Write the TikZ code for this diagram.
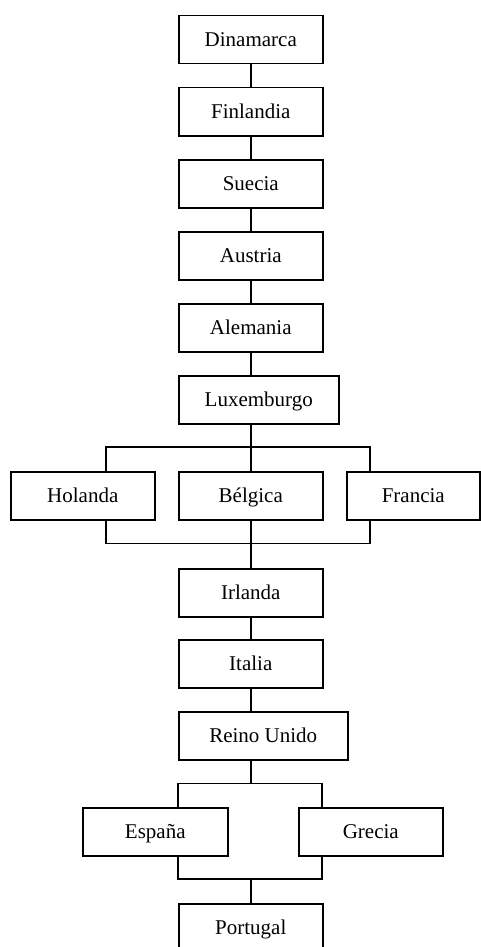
\documentclass[tikz,border=0pt]{standalone}
\usepackage{fontspec}
\setmainfont{Liberation Serif}
\usetikzlibrary{calc}

\begin{document}
\begin{tikzpicture}[x=1pt,y=-1pt,line width=1.5pt,
    pais/.style={draw, rectangle, anchor=north west, inner sep=0pt,
      minimum width=144pt, minimum height=48pt, text height=19pt, text depth=5pt,
      font=\fontsize{21}{25}\selectfont}]
        \useasboundingbox (0,0) rectangle (480,947);
        \node [pais] (dinamarca) at (178,15) {Dinamarca};
        \node [pais] (finlandia) at (178,87) {Finlandia};
        \node [pais] (suecia) at (178,159) {Suecia};
        \node [pais] (austria) at (178,231) {Austria};
        \node [pais] (alemania) at (178,303) {Alemania};
        \node [pais, minimum width=160pt] (luxemburgo) at (178,375) {Luxemburgo};
        \node [pais] (holanda) at (10,471) {Holanda};
        \node [pais] (belgica) at (178,471) {Bélgica};
        \node [pais, minimum width=133pt] (francia) at (346,471) {Francia};
        \node [pais] (irlanda) at (178,568) {Irlanda};
        \node [pais] (italia) at (178,639) {Italia};
        \node [pais, minimum width=169pt] (reino) at (178,711) {Reino Unido};
        \node [pais, minimum width=145pt] (espana) at (82,807) {España};
        \node [pais] (grecia) at (298,807) {Grecia};
        \node [pais] (portugal) at (178,903) {Portugal};
        \draw (dinamarca) -- (finlandia);
        \draw (finlandia) -- (suecia);
        \draw (suecia) -- (austria);
        \draw (austria) -- (alemania);
        \draw (alemania.south) -- (luxemburgo.north -| alemania.south);
        % primera bifurcacion
        \coordinate (split1) at ($(belgica.north)+(0,-24)$);
        \coordinate (join1) at ($(belgica.south)+(0,23)$);
        \draw (luxemburgo.south -| split1) -- (belgica.north);
        \draw ($(holanda.north west)+(96,0)$) |- (split1) -| ($(francia.north west)+(24,0)$);
        \draw ($(holanda.south west)+(96,0)$) |- (join1) -| ($(francia.south west)+(24,0)$);
        \draw (belgica.south) -- (irlanda.north);
        \draw (irlanda) -- (italia);
        \draw (italia.south) -- (reino.north -| italia.south);
        % segunda bifurcacion
        \coordinate (split2) at ($(reino.south -| italia.south)+(0,23)$);
        \coordinate (join2) at ($(portugal.north)+(0,-24)$);
        \draw (reino.south -| split2) -- (split2);
        \draw ($(espana.north west)+(96,0)$) |- (split2) -| ($(grecia.north west)+(24,0)$);
        \draw ($(espana.south west)+(96,0)$) |- (join2) -| ($(grecia.south west)+(24,0)$);
        \draw (join2) -- (portugal.north);
      \end{tikzpicture}
\end{document}
